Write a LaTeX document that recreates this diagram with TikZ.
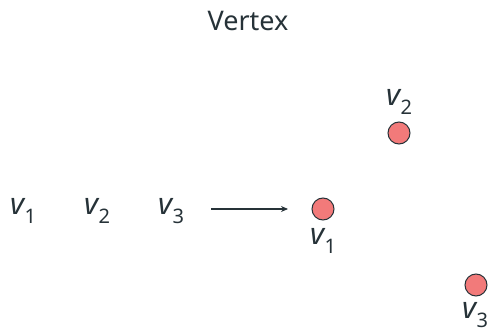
\documentclass[tikz,border=0pt]{standalone}
\usepackage{fontspec}
\setmainfont{Noto Sans}
\usetikzlibrary{arrows.meta}
\definecolor{ink}{HTML}{263238}
\definecolor{dotfill}{HTML}{F27A7A}
\newcommand{\vlab}[1]{\textit{v}\kern-1pt\raisebox{-0.3em}{\fontsize{20}{20}\selectfont #1}}
\tikzset{
  lab/.style={text=ink, font=\fontsize{30}{30}\selectfont, inner sep=0pt},
  dot/.style={circle, draw=ink, fill=dotfill, line width=1pt, minimum size=22pt, inner sep=0pt},
  conn/.style={draw=ink, line width=1.1pt, -{Stealth[length=7pt,width=6pt]}}
}
\begin{document}
\begin{tikzpicture}[x=1pt,y=-1pt]
\useasboundingbox (0,0) rectangle (491,332);
\node[text=ink, font=\fontsize{27}{27}\selectfont, inner sep=0pt] (title) at (248,21) {Vertex};
\node[lab] (a1) at (23,211) {\vlab{1}};
\node[lab] (a2) at (97,211) {\vlab{2}};
\node[lab] (a3) at (171,211) {\vlab{3}};
\coordinate (s) at (211,209);
\coordinate (e) at (288,209);
\draw[conn] (s) -- (e);
\node[dot] (d1) at (323,209) {};
\node[dot] (d2) at (399,133) {};
\node[dot] (d3) at (476,285) {};
\node[lab] (b1) at (323,241) {\vlab{1}};
\node[lab] (b2) at (399,102) {\vlab{2}};
\node[lab] (b3) at (475,315) {\vlab{3}};
\end{tikzpicture}
\end{document}
